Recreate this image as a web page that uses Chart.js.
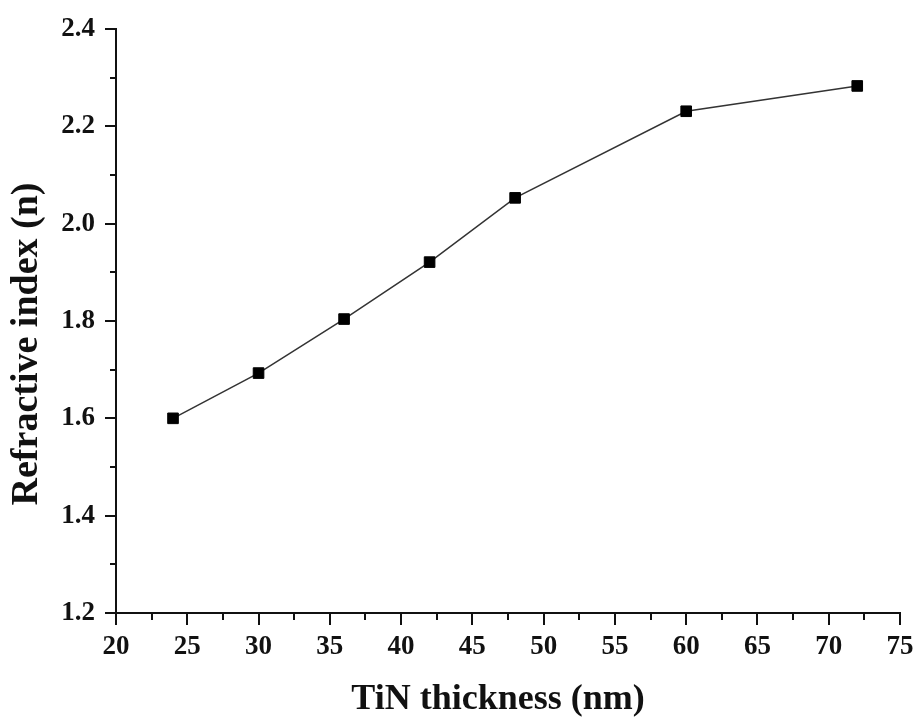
<!DOCTYPE html>
<html>
<head>
<meta charset="utf-8">
<script src="https://cdn.jsdelivr.net/npm/chart.js@4/dist/chart.umd.min.js"></script>
<style>
  html, body { margin:0; padding:0; background:#fff; }
  #wrap { width:920px; height:718px; position:relative; }
</style>
</head>
<body>
<div id="wrap"><canvas id="chart"></canvas></div>
<script>
// TiN thickness (nm) vs refractive index
const thickness = [24, 30, 36, 42, 48, 60, 72];
const refIndex  = [1.60, 1.693, 1.804, 1.921, 2.053, 2.231, 2.283];

const xTicks = [20, 25, 30, 35, 40, 45, 50, 55, 60, 65, 70, 75];
const xMinor = [22.5, 27.5, 32.5, 37.5, 42.5, 47.5, 52.5, 57.5, 62.5, 67.5, 72.5];
const yTicks = [1.2, 1.4, 1.6, 1.8, 2.0, 2.2, 2.4];
const yMinor = [1.3, 1.5, 1.7, 1.9, 2.1, 2.3];

const X_TITLE = "TiN thickness (nm)";
const Y_TITLE = "Refractive index (n)";

const INK = "#111";
const FONT = "'Liberation Serif', 'Times New Roman', serif";

// small ticks between the labelled ones
const minorTicks = {
  id: "minorTicks",
  afterDraw(chart){
    const {ctx, scales:{x, y}} = chart;
    ctx.save();
    ctx.strokeStyle = INK;
    ctx.lineWidth = 2;
    ctx.beginPath();
    for (const v of xMinor){
      const px = Math.round(x.getPixelForValue(v));
      ctx.moveTo(px, x.top); ctx.lineTo(px, x.top + 7);
    }
    for (const v of yMinor){
      const py = Math.round(y.getPixelForValue(v));
      ctx.moveTo(y.right, py); ctx.lineTo(y.right - 6, py);
    }
    ctx.stroke();
    ctx.restore();
  }
};

// axis titles, placed a little off the axis centres
const axisTitles = {
  id: "axisTitles",
  afterDraw(chart){
    const {ctx, scales:{x, y}} = chart;
    ctx.save();
    ctx.fillStyle = INK;
    ctx.textAlign = "center";
    ctx.textBaseline = "middle";

    ctx.font = `bold 36px ${FONT}`;
    ctx.fillText(X_TITLE, (x.left + x.right) / 2 - 10, 700);

    ctx.translate(27, (y.top + y.bottom) / 2 + 23);
    ctx.rotate(-Math.PI / 2);
    ctx.font = `bold 38px ${FONT}`;
    ctx.fillText(Y_TITLE, 0, 0);
    ctx.restore();
  }
};

new Chart(document.getElementById("chart"), {
  type: "line",
  data: {
    datasets: [{
      data: thickness.map((t, i) => ({ x: t, y: refIndex[i] })),
      borderColor: "#333",
      borderWidth: 1.5,
      pointStyle: "rect",
      pointRadius: 7.5,
      pointBorderWidth: 1,
      pointBackgroundColor: "#000",
      pointBorderColor: "#000",
      tension: 0
    }]
  },
  options: {
    responsive: true,
    maintainAspectRatio: false,
    animation: false,
    layout: { padding: { top: 29, right: 20, left: 0, bottom: 0 } },
    plugins: { legend: { display: false }, tooltip: { enabled: false } },
    scales: {
      x: {
        type: "linear",
        min: 20, max: 75,
        afterBuildTicks: s => { s.ticks = xTicks.map(v => ({ value: v })); },
        afterFit: s => { s.height = 105; },
        grid: { drawOnChartArea: false, tickLength: 12, tickColor: INK, lineWidth: 2 },
        border: { color: INK, width: 2 },
        ticks: { color: INK, padding: 6, maxRotation: 0, font: { family: FONT, size: 27, weight: "bold" } },
        title: { display: false }
      },
      y: {
        type: "linear",
        min: 1.2, max: 2.4,
        afterBuildTicks: s => { s.ticks = yTicks.map(v => ({ value: v })); },
        afterFit: s => { s.width = 116; },
        grid: { drawOnChartArea: false, tickLength: 11, tickColor: INK, lineWidth: 2 },
        border: { color: INK, width: 2 },
        ticks: { color: INK, padding: 10, callback: v => Number(v).toFixed(1),
                 font: { family: FONT, size: 27, weight: "bold" } },
        title: { display: false }
      }
    }
  },
  plugins: [minorTicks, axisTitles]
});
</script>
</body>
</html>
